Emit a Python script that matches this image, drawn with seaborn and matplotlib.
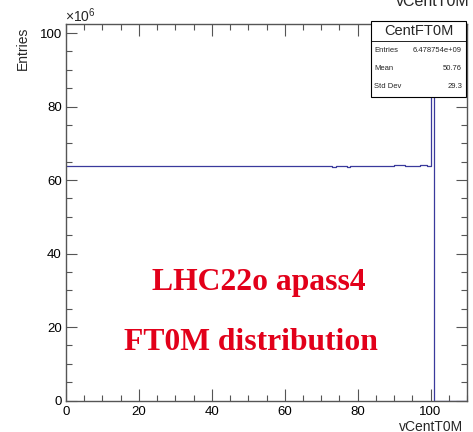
import numpy as np
import pandas as pd
import matplotlib
matplotlib.use("Agg")
import matplotlib.pyplot as plt
import seaborn as sns
from matplotlib.patches import Rectangle
from matplotlib.lines import Line2D

# histogram content, one value per bin of width 1 (units of 1e6 entries)
bin_edges = list(range(0, 111))
counts_1e6 = [
    63.9, 63.9, 63.9, 63.9, 63.9, 63.9, 63.9, 63.9, 63.9, 63.9,
    63.9, 63.9, 63.9, 63.9, 63.9, 63.9, 63.9, 63.9, 63.9, 63.9,
    63.9, 63.9, 63.9, 63.9, 63.9, 63.9, 63.9, 63.9, 63.9, 63.9,
    63.9, 63.9, 63.9, 63.9, 63.9, 63.9, 63.9, 63.9, 63.9, 63.9,
    63.9, 63.9, 63.9, 63.9, 63.9, 63.9, 63.9, 63.9, 63.9, 63.9,
    63.9, 63.9, 63.9, 63.9, 63.9, 63.9, 63.9, 63.9, 63.9, 63.9,
    63.9, 63.9, 63.9, 63.9, 63.9, 63.9, 63.9, 63.9, 63.9, 63.9,
    63.9, 63.9, 63.9, 63.6, 63.9, 63.9, 63.9, 63.6, 63.9, 63.9,
    63.9, 63.9, 63.9, 63.9, 63.9, 63.9, 63.9, 63.9, 63.9, 63.9,
    64.2, 64.2, 64.0, 63.9, 63.7, 63.9, 63.9, 64.2, 64.2, 63.9,
    97.6, 0.0, 0.0, 0.0, 0.0, 0.0, 0.0, 0.0, 0.0, 0.0,
]
bin_centers = [e + 0.5 for e in bin_edges[:-1]]
df = pd.DataFrame({"vCentT0M": bin_centers, "w": counts_1e6})

hist_name = "CentFT0M"
hist_title = "vCentT0M"
stat_labels = ["Entries", "Mean", "Std Dev"]
stat_values = ["6.478754e+09", "50.76", "29.3"]
x_ticks = [0, 20, 40, 60, 80, 100]
y_ticks = [0, 20, 40, 60, 80, 100]

sns.set_theme(style="white")
plt.rcParams['font.family'] = ['Liberation Sans', 'DejaVu Sans']
plt.rcParams['mathtext.fontset'] = 'custom'
plt.rcParams['mathtext.rm'] = 'Liberation Sans'

W, H = 473, 432
fig = plt.figure(figsize=(W / 100, H / 100), dpi=100)
fig.patch.set_facecolor('white')
ax = fig.add_axes([66 / W, 1 - 400.5 / H, (467 - 66) / W, (400.5 - 24) / H])

sns.histplot(data=df, x="vCentT0M", weights="w", bins=bin_edges, element="step",
             fill=False, color="#3a3a9c", linewidth=0.9, ax=ax)

ax.set_xlim(0, 110)
ax.set_ylim(0, 102.45)
ax.set_xticks(x_ticks)
ax.set_yticks(y_ticks)
ax.set_xticks(np.arange(0, 111, 5), minor=True)
ax.set_yticks(np.arange(0, 102, 5), minor=True)
ax.set_xlabel("")
ax.set_ylabel("")

frame_col = "#555555"
for s in ax.spines.values():
    s.set_color(frame_col)
    s.set_linewidth(1.0)
ax.tick_params(axis='x', which='both', direction='in', top=True, bottom=True,
               colors=frame_col, labelcolor='black', labelsize=9.5, pad=4)
ax.tick_params(axis='y', which='both', direction='in', left=True, right=True,
               colors=frame_col, labelcolor='black', labelsize=9.5, pad=3)
ax.tick_params(axis='x', which='major', length=8.5, width=0.8)
ax.tick_params(axis='x', which='minor', length=4.5, width=0.8)
ax.tick_params(axis='y', which='major', length=8, width=0.8)
ax.tick_params(axis='y', which='minor', length=4, width=0.8)

# axis titles, ROOT style (right / top aligned)
fig.text(463 / W, 1 - 431 / H, hist_title, ha='right', va='baseline', fontsize=10)
fig.text(23 / W, 1 - 27 / H, "Entries", rotation=90, ha='center', va='top', fontsize=10)
fig.text(65 / W, 1 - 22 / H, r'$\times10^{6}$', ha='left', va='baseline', fontsize=10)

# histogram title, cut at the top edge as in the original canvas
fig.text(433 / W, 1 - 6 / H, hist_title, ha='center', va='baseline', fontsize=11.5)

# stats box
bx0, bx1, by0, by1 = 371, 466, 21, 97
fig.patches.append(Rectangle((bx0 / W, 1 - by1 / H), (bx1 - bx0) / W, (by1 - by0) / H,
                             transform=fig.transFigure, facecolor='white',
                             edgecolor='black', linewidth=0.8, zorder=5))
fig.lines.append(Line2D([bx0 / W, bx1 / W], [1 - 41 / H, 1 - 41 / H],
                        transform=fig.transFigure, color='black', linewidth=0.6, zorder=6))
fig.text((bx0 + bx1) / 2 / W, 1 - 31 / H, hist_name, ha='center', va='center',
         fontsize=10.5, zorder=7)
for lab, val, yy in zip(stat_labels, stat_values, [50.5, 68.5, 86]):
    fig.text(374 / W, 1 - yy / H, lab, ha='left', va='center', fontsize=5.5, zorder=7)
    fig.text(462 / W, 1 - yy / H, val, ha='right', va='center', fontsize=5.5, zorder=7)

# red annotation
red = "#e2001a"
serif = ['Liberation Serif', 'DejaVu Serif']
fig.text(152 / W, 1 - 290 / H, "LHC22o apass4", ha='left', va='baseline', color=red,
         fontsize=22.8, fontweight='bold', family=serif)
fig.text(124 / W, 1 - 350 / H, "FT0M distribution", ha='left', va='baseline', color=red,
         fontsize=22.8, fontweight='bold', family=serif)

fig.savefig("out.png", dpi=100)
